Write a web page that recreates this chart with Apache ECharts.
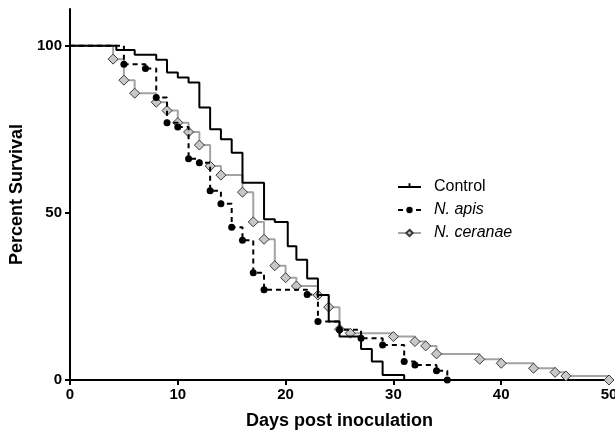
<!DOCTYPE html>
<html><head><meta charset="utf-8">
<script src="https://cdn.jsdelivr.net/npm/echarts@6/dist/echarts.min.js"></script>
<style>html,body{margin:0;padding:0;background:#fff}#c{width:615px;height:434px}</style>
</head><body><div id="c"></div>
<script>
const seriesNames = ['Control', 'N. apis', 'N. ceranae'];

const controlDays = [0, 4.3, 6, 8, 9, 10, 11, 12, 13, 14, 15, 16, 18, 19, 20.2, 21, 22, 23, 24, 25, 27, 28, 29, 31];
const controlSurv = [100, 98.7, 97.3, 95.8, 92, 90.5, 89, 81.5, 75, 72, 68, 59, 48.1, 47.3, 40, 36, 30.4, 25.4, 17.5, 13, 9.3, 5.5, 1.5, 0];

const apisDays = [0, 5, 7, 8, 9, 10, 11, 12, 13, 14, 15, 16, 17, 18, 22, 23, 25, 27, 29, 31, 32, 34, 35];
const apisSurv = [100, 94.5, 93.2, 84.5, 77, 75.7, 66.2, 65, 56.6, 52.7, 45.7, 41.8, 32.1, 27, 25.6, 17.5, 15, 12.5, 10.5, 5.5, 4.5, 2.8, 0];

const ceranaeDays = [0, 4, 5, 6, 8, 9, 10, 11, 12, 13, 14, 16, 17, 18, 19, 20, 21, 23, 24, 25, 26, 30, 32, 33, 34, 38, 40, 43, 45, 46, 50];
const ceranaeSurv = [100, 96, 89.7, 85.8, 83.1, 80.6, 77, 74.2, 70.3, 64, 61.3, 56.2, 47.3, 42.1, 34.2, 30.6, 28.1, 25.4, 21.8, 15.2, 14, 13, 11.5, 10.2, 7.8, 6.2, 5, 3.5, 2.3, 1.2, 0];

const xTicks = [0, 10, 20, 30, 40, 50];
const yTicks = [0, 50, 100];

const FONT = "'Liberation Sans', Arial, sans-serif";

function build(days, vals) {
  return days.map((d, i) => i === 0 ? { value: [d, vals[i]], symbol: 'none' } : { value: [d, vals[i]] });
}

// legend icon for Control: line with a small censor tick
const controlIcon = 'path://M0,3L24,3L24,5L0,5Z M11,0L13,0L13,3L11,3Z M0,8L0.01,8L0.01,7.99Z';

const chart = echarts.init(document.getElementById('c'), null, { renderer: 'canvas' });
chart.setOption({
  animation: false,
  backgroundColor: '#fff',
  grid: { left: 70, right: 6, top: 9, bottom: 54, containLabel: false, outerBoundsMode: 'none' },
  legend: {
    orient: 'vertical',
    left: 392,
    top: 174,
    itemWidth: 23,
    itemHeight: 8,
    itemGap: 7,
    textStyle: { fontFamily: FONT, fontSize: 16, color: '#000', padding: [0, 0, 0, 8] },
    data: [
      { name: seriesNames[0], icon: controlIcon },
      { name: seriesNames[1], textStyle: { fontStyle: 'italic' } },
      { name: seriesNames[2], textStyle: { fontStyle: 'italic' } }
    ]
  },
  xAxis: {
    type: 'value', min: 0, max: 50, interval: 10,
    name: 'Days post inoculation', nameLocation: 'middle', nameGap: 32,
    nameTextStyle: { fontFamily: FONT, fontSize: 18, fontWeight: 'bold', color: '#000' },
    axisLine: { lineStyle: { color: '#000', width: 2 } },
    axisTick: { show: true, length: 5, lineStyle: { color: '#000', width: 2 }, customValues: xTicks },
    axisLabel: { fontFamily: FONT, fontSize: 15, fontWeight: 'bold', color: '#000', margin: 7, customValues: xTicks },
    splitLine: { show: false }
  },
  yAxis: {
    type: 'value', min: 0, max: 111, interval: 50,
    name: 'Percent Survival', nameLocation: 'middle', nameGap: 44,
    nameTextStyle: { fontFamily: FONT, fontSize: 18, fontWeight: 'bold', color: '#000' },
    axisLine: { show: true, lineStyle: { color: '#000', width: 2 } },
    axisTick: { show: true, length: 5, lineStyle: { color: '#000', width: 2 }, customValues: yTicks },
    axisLabel: { fontFamily: FONT, fontSize: 15, fontWeight: 'bold', color: '#000', margin: 8, customValues: yTicks },
    splitLine: { show: false }
  },
  series: [
    {
      name: seriesNames[2], type: 'line', step: 'end', z: 2,
      data: build(ceranaeDays, ceranaeSurv),
      symbol: 'diamond', symbolSize: 10,
      lineStyle: { color: '#a3a3a3', width: 2 },
      itemStyle: { color: '#c8c8c8', borderColor: '#3a3a3a', borderWidth: 1 }
    },
    {
      name: seriesNames[0], type: 'line', step: 'end', z: 3,
      data: build(controlDays, controlSurv),
      symbol: 'none',
      lineStyle: { color: '#000', width: 2 },
      itemStyle: { color: '#000' }
    },
    {
      name: seriesNames[1], type: 'line', step: 'end', z: 4,
      data: build(apisDays, apisSurv),
      symbol: 'circle', symbolSize: 7,
      lineStyle: { color: '#000', width: 2, type: [5, 4] },
      itemStyle: { color: '#000' }
    }
  ]
});
</script>
</body></html>
